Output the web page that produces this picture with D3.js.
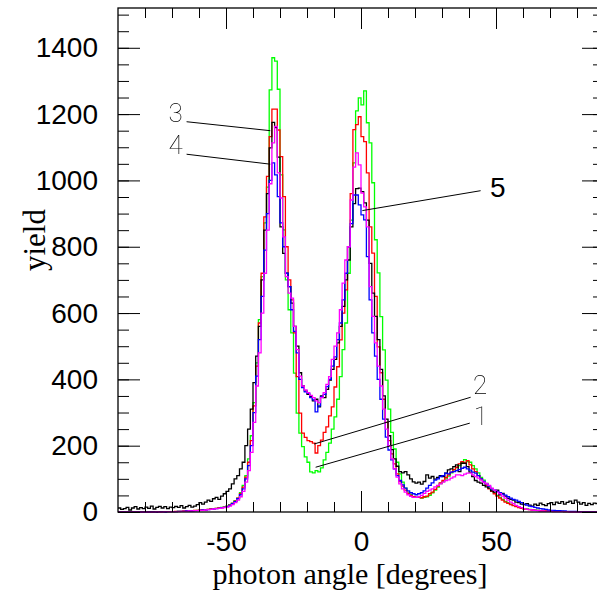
<!DOCTYPE html>
<html>
<head>
<meta charset="utf-8">
<script src="https://cdn.jsdelivr.net/npm/d3@7"></script>
<style>
  body { margin: 0; background: #fff; }
  svg { display: block; }
</style>
</head>
<body>
<div id="chart"></div>
<script>
// bins of 1 degree, lower edges -90 .. 89
const binEdges = d3.range(-90, 91, 1);

// series 1 (green)
const green = [
  0, 0, 0, 0, 0, 0, 0, 0, 0, 0,
  0, 0, 0, 0, 0, 1, 0, 1, 1, 1,
  1, 1, 2, 2, 2, 3, 3, 4, 4, 5,
  5, 6, 7, 8, 9, 10, 11, 12, 14, 15,
  18, 22, 27, 34, 42, 58, 80, 110, 160, 230,
  330, 450, 580, 710, 872, 980, 1273, 1370, 1360, 1275,
  1017, 851, 700, 610, 540, 419, 298, 238, 197, 166,
  150, 121, 118, 125, 121, 133, 157, 180, 208, 250,
  287, 340, 408, 490, 570, 720, 880, 1053, 1210, 1249,
  1228, 1270, 1174, 1113, 993, 821, 721, 589, 489, 398,
  310, 240, 190, 150, 115, 90, 72, 60, 52, 46,
  45, 44, 42, 44, 46, 50, 58, 66, 75, 86,
  92, 100, 108, 118, 127, 134, 140, 150, 158, 152,
  150, 140, 130, 118, 104, 96, 86, 76, 66, 58,
  50, 44, 38, 32, 28, 24, 20, 17, 14, 12,
  10, 9, 8, 7, 6, 5, 4, 4, 3, 3,
  3, 2, 2, 2, 2, 1, 1, 1, 1, 1,
  1, 1, 1, 0, 0, 0, 0, 0, 0, 0
];

// series 2 (red)
const red = [
  0, 0, 0, 0, 0, 0, 0, 0, 0, 0,
  0, 0, 0, 1, 0, 0, 1, 1, 1, 1,
  1, 2, 2, 2, 3, 3, 3, 4, 5, 5,
  6, 6, 7, 8, 9, 10, 11, 12, 13, 15,
  17, 21, 26, 33, 42, 55, 75, 105, 150, 215,
  320, 440, 570, 720, 890, 1012, 1132, 1215, 1215, 1152,
  1072, 951, 800, 700, 640, 540, 408, 298, 238, 225,
  215, 212, 208, 178, 200, 217, 240, 257, 290, 317,
  377, 438, 519, 600, 670, 800, 960, 1153, 1168, 1192,
  1132, 1117, 1023, 860, 781, 650, 498, 420, 340, 270,
  215, 175, 145, 115, 92, 78, 66, 56, 50, 46,
  44, 45, 43, 46, 48, 55, 60, 68, 78, 88,
  95, 104, 112, 120, 128, 135, 145, 152, 148, 155,
  142, 130, 122, 110, 100, 90, 80, 70, 62, 55,
  48, 42, 36, 30, 26, 22, 19, 16, 13, 11,
  9, 8, 7, 6, 5, 5, 4, 4, 3, 3,
  3, 2, 2, 2, 2, 1, 1, 1, 1, 1,
  1, 1, 1, 1, 0, 0, 0, 0, 0, 0
];

// series 3 (black)
const black = [
  12, 8, 10, 14, 6, 12, 16, 9, 13, 10,
  15, 11, 18, 9, 14, 17, 12, 16, 10, 15,
  13, 17, 14, 19, 12, 16, 20, 15, 18, 22,
  28, 24, 30, 36, 32, 40, 44, 38, 48, 55,
  62, 70, 85, 100, 110, 130, 150, 200, 250, 310,
  390, 470, 560, 700, 850, 960, 1098, 1175, 1159, 1070,
  860, 780, 720, 680, 630, 560, 500, 420, 380, 365,
  355, 348, 335, 340, 317, 350, 345, 370, 398, 430,
  460, 510, 560, 620, 700, 760, 860, 930, 975, 977,
  966, 932, 880, 750, 660, 590, 520, 430, 350, 280,
  230, 188, 160, 138, 122, 118, 122, 112, 100, 91,
  87, 90, 84, 92, 112, 102, 107, 99, 104, 110,
  107, 117, 127, 130, 137, 142, 122, 147, 147, 137,
  120, 107, 95, 90, 87, 80, 76, 72, 64, 60,
  66, 52, 56, 48, 41, 38, 36, 30, 28, 24,
  22, 25, 21, 18, 24, 20, 27, 22, 19, 25,
  28, 22, 30, 26, 31, 24, 29, 33, 26, 36,
  30, 24, 28, 20, 26, 22, 27, 25, 18, 22
];

// series 4 (blue)
const blue = [
  0, 0, 0, 0, 0, 0, 0, 0, 0, 0,
  0, 0, 1, 0, 0, 1, 1, 0, 1, 1,
  1, 1, 2, 2, 2, 3, 3, 3, 4, 4,
  5, 6, 6, 7, 8, 9, 10, 11, 13, 14,
  16, 20, 25, 31, 40, 52, 70, 100, 140, 200,
  300, 410, 520, 650, 790, 900, 1000, 1053, 1017, 951,
  872, 800, 720, 680, 610, 545, 480, 400, 375, 362,
  358, 345, 338, 302, 320, 347, 355, 378, 400, 440,
  468, 520, 570, 640, 720, 800, 870, 956, 956, 926,
  896, 881, 770, 640, 540, 470, 400, 340, 280, 226,
  187, 157, 130, 110, 95, 82, 72, 64, 58, 55,
  52, 55, 58, 64, 72, 80, 88, 96, 100, 107,
  110, 117, 115, 120, 122, 125, 128, 132, 135, 130,
  126, 120, 117, 110, 100, 92, 85, 78, 70, 66,
  62, 58, 54, 51, 46, 42, 38, 36, 32, 28,
  24, 21, 18, 16, 14, 12, 10, 9, 8, 6,
  5, 5, 4, 4, 3, 3, 2, 2, 2, 2,
  1, 1, 1, 1, 1, 1, 0, 0, 0, 0
];

// series 5 (magenta)
const magenta = [
  0, 0, 0, 0, 0, 0, 0, 0, 0, 0,
  0, 0, 0, 0, 1, 0, 0, 1, 1, 1,
  1, 1, 1, 2, 2, 2, 3, 3, 4, 4,
  5, 5, 6, 7, 8, 9, 10, 11, 12, 13,
  15, 18, 22, 28, 36, 46, 62, 90, 125, 180,
  270, 380, 480, 600, 720, 850, 990, 1113, 1163, 1023,
  947, 830, 710, 660, 645, 560, 490, 410, 380, 368,
  360, 352, 345, 335, 330, 345, 360, 385, 408, 460,
  500, 540, 610, 690, 760, 800, 941, 1040, 1083, 1047,
  962, 920, 860, 680, 590, 510, 440, 380, 310, 250,
  200, 160, 130, 105, 85, 70, 60, 52, 47, 44,
  44, 46, 50, 56, 62, 66, 70, 76, 80, 85,
  90, 95, 97, 102, 106, 112, 112, 110, 114, 117,
  117, 112, 107, 102, 96, 90, 86, 80, 72, 66,
  60, 55, 48, 42, 36, 30, 25, 20, 16, 13,
  10, 8, 7, 6, 5, 4, 3, 3, 2, 2,
  2, 1, 1, 1, 1, 1, 1, 0, 0, 0,
  0, 0, 0, 0, 0, 0, 0, 0, 0, 0
];

const seriesList = [
  { name: "1", color: "#00ff00", values: green },
  { name: "2", color: "#ff0000", values: red },
  { name: "3", color: "#000000", values: black },
  { name: "4", color: "#0000ff", values: blue },
  { name: "5", color: "#ff00ff", values: magenta }
];

const xTicksMajor = [-50, 0, 50];
const yTicksMajor = [0, 200, 400, 600, 800, 1000, 1200, 1400];

// labels with pointer lines, in data units
const labels = [
  { text: "3", tx: -68.7, ty: 1176, x1: -64.6, y1: 1177, x2: -33.6, y2: 1150, bold: false },
  { text: "4", tx: -68.7, ty: 1080, x1: -64.6, y1: 1079, x2: -33.6, y2: 1049, bold: false },
  { text: "5", tx: 50.7, ty: 950, x1: 44.3, y1: 969, x2: 0.5, y2: 909, bold: true },
  { text: "2", tx: 44.1, ty: 356, x1: 40.6, y1: 346, x2: -17.4, y2: 205, bold: false },
  { text: "1", tx: 44.4, ty: 262, x1: 40.3, y1: 268, x2: -16.8, y2: 135, bold: false }
];

const width = 597;
const height = 596;

const x = d3.scaleLinear().domain([-90, 90]).range([118, 604]);
const y = d3.scaleLinear().domain([0, 1520]).range([512, 8]);

const svg = d3.select("#chart").append("svg")
  .attr("width", width)
  .attr("height", height);

// greyscale filter for the thin label digits (avoids colour fringes)
svg.append("defs").append("filter")
  .attr("id", "grey")
  .append("feColorMatrix")
  .attr("type", "saturate")
  .attr("values", 0);

svg.append("rect").attr("width", width).attr("height", height).attr("fill", "#fff");

// histograms
const line = d3.line()
  .x((d) => x(d[0]))
  .y((d) => y(d[1]))
  .curve(d3.curveStepAfter);

seriesList.forEach((s) => {
  let pts = binEdges.map((e, i) => [e, s.values[Math.min(i, s.values.length - 1)]]);
  svg.append("path")
    .attr("d", line(pts))
    .attr("fill", "none")
    .attr("stroke", s.color)
    .attr("stroke-width", 1.3);
});

// axes: ticks point inward, plain hyphen for negatives
const plain = (d) => String(d);

function styleAxis(g) {
  g.select(".domain").remove();
  g.selectAll(".tick line").attr("stroke", "#000").attr("stroke-width", 1);
  g.selectAll("text")
    .attr("fill", "#000")
    .style("font-family", "'Liberation Sans', Arial, sans-serif")
    .style("font-size", "28px");
}

svg.append("g").attr("transform", "translate(118,0)")
  .call(d3.axisLeft(y).tickValues(d3.range(0, 1521, 50)).tickSize(-11).tickFormat(""))
  .call(styleAxis);
svg.append("g").attr("transform", "translate(118,0)")
  .call(d3.axisLeft(y).tickValues(yTicksMajor).tickSize(-22).tickPadding(20).tickFormat(plain))
  .call(styleAxis);
svg.append("g").attr("transform", "translate(604,0)")
  .call(d3.axisRight(y).tickValues(d3.range(0, 1521, 50)).tickSize(-11).tickFormat(""))
  .call(styleAxis);
svg.append("g").attr("transform", "translate(604,0)")
  .call(d3.axisRight(y).tickValues(yTicksMajor).tickSize(-22).tickFormat(""))
  .call(styleAxis);

svg.append("g").attr("transform", "translate(0,512)")
  .call(d3.axisBottom(x).tickValues(d3.range(-80, 90, 10)).tickSize(-10).tickFormat(""))
  .call(styleAxis);
svg.append("g").attr("transform", "translate(0,512)")
  .call(d3.axisBottom(x).tickValues(xTicksMajor).tickSize(-21).tickPadding(19).tickFormat(plain))
  .call(styleAxis);
svg.append("g").attr("transform", "translate(0,8)")
  .call(d3.axisTop(x).tickValues(d3.range(-80, 90, 10)).tickSize(-10).tickFormat(""))
  .call(styleAxis);
svg.append("g").attr("transform", "translate(0,8)")
  .call(d3.axisTop(x).tickValues(xTicksMajor).tickSize(-21).tickFormat(""))
  .call(styleAxis);

// frame
svg.append("rect")
  .attr("x", 118).attr("y", 8)
  .attr("width", 604 - 118).attr("height", 512 - 8)
  .attr("fill", "none")
  .attr("stroke", "#000")
  .attr("stroke-width", 1.3);

// axis titles
svg.append("text")
  .attr("x", 350).attr("y", 584)
  .attr("text-anchor", "middle")
  .style("font-family", "'Liberation Serif', 'Times New Roman', serif")
  .style("font-size", "30px")
  .text("photon angle [degrees]");

svg.append("text")
  .attr("transform", "translate(45,240) rotate(-90)")
  .attr("text-anchor", "middle")
  .style("font-family", "'Liberation Serif', 'Times New Roman', serif")
  .style("font-size", "31px")
  .text("yield");

// curve labels
const labelG = svg.append("g");
const thinG = svg.append("g").attr("filter", "url(#grey)");
labels.forEach((l) => {
  labelG.append("line")
    .attr("x1", x(l.x1)).attr("y1", y(l.y1))
    .attr("x2", x(l.x2)).attr("y2", y(l.y2))
    .attr("stroke", "#000")
    .attr("stroke-width", 1);
  (l.bold ? labelG : thinG).append("text")
    .attr("x", x(l.tx)).attr("y", y(l.ty))
    .attr("text-anchor", "middle")
    .attr("fill", "#000")
    .style("font-family", l.bold ? "'Liberation Sans', Arial, sans-serif" : "Roboto, 'DejaVu Sans', sans-serif")
    .style("font-weight", l.bold ? 400 : 100)
    .style("font-size", l.bold ? "28px" : "26px")
    .text(l.text);
});
</script>
</body>
</html>
